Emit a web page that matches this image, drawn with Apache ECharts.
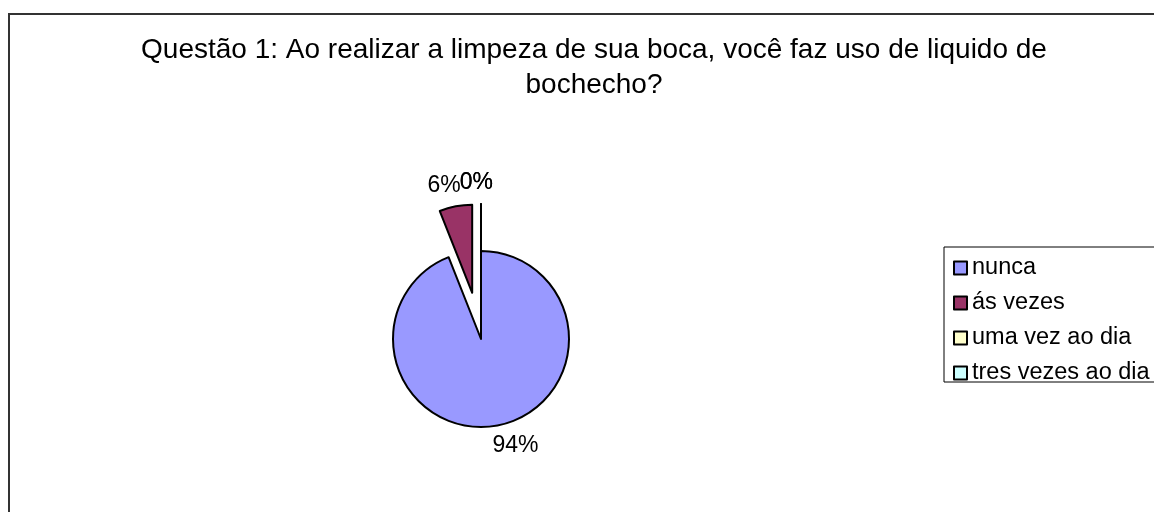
<!DOCTYPE html>
<html>
<head>
<meta charset="utf-8">
<title>Questão 1</title>
<script src="https://cdn.jsdelivr.net/npm/echarts@6.0.0/dist/echarts.min.js"></script>
<style>
html, body { margin: 0; padding: 0; background: #fff; }
#main { width: 1154px; height: 512px; }
</style>
</head>
<body>
<div id="main"></div>
<script>
// dados do grafico
var categories = ['nunca', 'ás vezes', 'uma vez ao dia', 'tres vezes ao dia'];
var percentValues = [94, 6, 0, 0];
var sliceColors = ['#9999FF', '#993366', '#FFFFCC', '#CCFFFF'];
var explodedSlices = [false, true, true, true];
var chartTitle = 'Questão 1: Ao realizar a limpeza de sua boca, você faz uso de liquido de\nbochecho?';

function buildPieData() {
    var rows = [];
    for (var i = 0; i < categories.length; i++) {
        var row = {
            name: categories[i],
            value: percentValues[i],
            selected: explodedSlices[i],
            itemStyle: { color: sliceColors[i] }
        };
        // fatia vazia: rotulo "0%" encostado no "6%", como no Excel
        if (percentValues[i] == 0) {
            row.label = { distanceToLabelLine: -12 };
        }
        rows.push(row);
    }
    return rows;
}

function loadPie(cid) {
    var myChart = echarts.init(document.getElementById(cid));
    var fontName = '"Liberation Sans", Arial, sans-serif';
    var option = {
        animation: false,
        backgroundColor: '#fff',
        title: {
            text: chartTitle,
            left: 589,
            top: 28,
            textAlign: 'center',
            textStyle: {
                fontFamily: fontName,
                fontSize: 28,
                fontWeight: 'normal',
                color: '#000',
                lineHeight: 35
            }
        },
        legend: {
            orient: 'vertical',
            left: 944,
            top: 247,
            padding: [9, 30, -3, 9],
            itemGap: 11,
            itemWidth: 13,
            itemHeight: 13,
            icon: 'rect',
            borderColor: '#000',
            borderWidth: 1,
            selectedMode: false,
            data: categories,
            textStyle: {
                fontFamily: fontName,
                fontSize: 23.5,
                color: '#000'
            }
        },
        graphic: [{
            type: 'rect',
            shape: { x: 9, y: 14, width: 1300, height: 700 },
            style: { fill: 'none', stroke: '#333', lineWidth: 2 },
            silent: true
        }],
        series: [{
            type: 'pie',
            center: [481, 339],
            radius: 88,
            startAngle: 90,
            clockwise: true,
            selectedMode: 'multiple',
            selectedOffset: 47,
            avoidLabelOverlap: false,
            labelLayout: { hideOverlap: false },
            emphasis: { disabled: true },
            itemStyle: { borderColor: '#000', borderWidth: 2 },
            select: { itemStyle: { borderColor: '#000', borderWidth: 2 } },
            label: {
                show: true,
                position: 'outside',
                distanceToLabelLine: -9,
                fontFamily: fontName,
                fontSize: 23,
                color: '#000',
                formatter: function (p) {
                    return Math.round(p.percent) + '%';
                }
            },
            labelLine: { show: false, length: 21, length2: 0 },
            data: buildPieData()
        }]
    };
    myChart.setOption(option);
    window.onresize = myChart.resize;
}

loadPie('main');
</script>
</body>
</html>
